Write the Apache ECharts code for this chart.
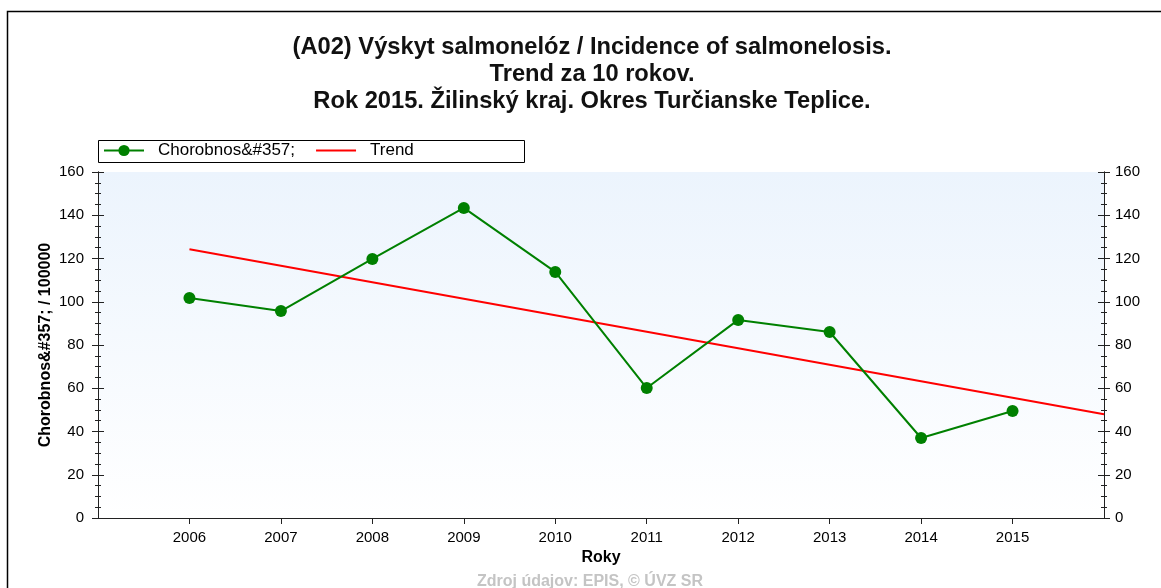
<!DOCTYPE html>
<html>
<head>
<meta charset="utf-8">
<script src="https://cdn.jsdelivr.net/npm/echarts@6/dist/echarts.min.js"></script>
<style>
  html, body { margin: 0; padding: 0; background: #fff; }
  #chart { width: 1161px; height: 588px; }
</style>
</head>
<body>
<div id="chart"></div>
<script>
// Incidence per 100 000 inhabitants, Turčianske Teplice district
const years = [2006, 2007, 2008, 2009, 2010, 2011, 2012, 2013, 2014, 2015];
const incidence = [101.7, 95.7, 119.8, 143.4, 113.8, 60.1, 91.6, 86.0, 37.0, 49.5];

// Linear trend end points
const trendYears = [2006, 2016];
const trendValues = [124.3, 48.0];

// Axis ranges and tick labels
const xRange = [2005, 2016];
const yTicks = [0, 20, 40, 60, 80, 100, 120, 140, 160];

const titleLines = [
  '(A02) Výskyt salmonelóz / Incidence of salmonelosis.',
  'Trend za 10 rokov.',
  'Rok 2015. Žilinský kraj. Okres Turčianske Teplice.'
];
const seriesName = 'Chorobnos&#357;';
const trendName = 'Trend';
const yName = 'Chorobnos&#357; / 100000';
const xName = 'Roky';
const sourceText = 'Zdroj údajov: EPIS, © ÚVZ SR';

const FONT = '"Liberation Sans", Arial, sans-serif';
const AXIS_COLOR = '#222';

const chart = echarts.init(document.getElementById('chart'), null, { renderer: 'canvas' });

const yMin = yTicks[0], yMax = yTicks[yTicks.length - 1], yStep = yTicks[1] - yTicks[0];

function yAxisDef(position, inside, withLabels) {
  return {
    type: 'value',
    position: position,
    min: yMin, max: yMax, interval: yStep,
    axisLine: { show: true, lineStyle: { color: AXIS_COLOR, width: 1 } },
    axisTick: { show: true, inside: inside, length: 6, lineStyle: { color: AXIS_COLOR } },
    minorTick: { show: true, splitNumber: 4, length: 3, lineStyle: { color: AXIS_COLOR } },
    splitLine: { show: false },
    axisLabel: withLabels ? {
      show: true, color: '#000', fontFamily: FONT, fontSize: 15,
      margin: position === 'left' ? 14 : 11
    } : { show: false }
  };
}

const pairs = years.map((y, i) => [y, incidence[i]]);
const trendPairs = trendYears.map((y, i) => [y, trendValues[i]]);

chart.setOption({
  animation: false,
  title: {
    text: titleLines.join('\n'),
    left: 587, top: 29, textAlign: 'center',
    textStyle: { fontFamily: FONT, fontSize: 23.7, fontWeight: 'bold', color: '#111', lineHeight: 27 }
  },
  legend: {
    left: 103, top: 142,
    itemWidth: 40, itemHeight: 14, itemGap: 20,
    padding: 0,
    textStyle: { fontFamily: FONT, fontSize: 17, color: '#000', padding: [0, 0, 0, 9] },
    data: [
      { name: seriesName },
      { name: trendName, itemStyle: { opacity: 0 } }
    ]
  },
  grid: {
    left: 98, right: 57, top: 172, bottom: 70,
    show: true, borderWidth: 0,
    backgroundColor: new echarts.graphic.LinearGradient(0, 0, 0, 1, [
      { offset: 0, color: '#ecf4fd' },
      { offset: 1, color: '#ffffff' }
    ])
  },
  xAxis: [
    {
      type: 'value', position: 'bottom',
      min: xRange[0], max: xRange[1], interval: 1,
      name: xName, nameLocation: 'middle', nameGap: 30,
      nameTextStyle: { fontFamily: FONT, fontSize: 16, fontWeight: 'bold', color: '#000' },
      axisLine: { show: true, lineStyle: { color: AXIS_COLOR, width: 1 } },
      axisTick: { show: true, length: 6, customValues: years, lineStyle: { color: AXIS_COLOR } },
      splitLine: { show: false },
      axisLabel: {
        color: '#000', fontFamily: FONT, fontSize: 15, margin: 12,
        customValues: years,
        formatter: v => (v === xRange[0] || v === xRange[1]) ? '' : String(v)
      }
    },
    {
      type: 'value', position: 'top',
      min: xRange[0], max: xRange[1], interval: 1,
      axisLine: { show: true, lineStyle: { color: AXIS_COLOR, width: 1 } },
      axisTick: { show: true, inside: true, length: 6, customValues: years, lineStyle: { color: AXIS_COLOR } },
      splitLine: { show: false },
      axisLabel: { show: false }
    }
  ],
  yAxis: [
    Object.assign(yAxisDef('left', false, true), {
      name: yName, nameLocation: 'middle', nameGap: 44, nameMoveOverlap: false,
      nameTextStyle: { fontFamily: FONT, fontSize: 16, fontWeight: 'bold', color: '#000' }
    }),
    yAxisDef('left', true, false),
    yAxisDef('right', false, true),
    yAxisDef('right', true, false)
  ],
  series: [
    {
      name: seriesName, type: 'line',
      xAxisIndex: 0, yAxisIndex: 0,
      data: pairs,
      symbol: 'circle', symbolSize: 12,
      lineStyle: { color: '#008000', width: 2 },
      itemStyle: { color: '#008000' },
      z: 3
    },
    {
      name: trendName, type: 'line',
      xAxisIndex: 0, yAxisIndex: 0,
      data: trendPairs,
      symbol: 'none',
      lineStyle: { color: '#ff0000', width: 2 },
      itemStyle: { color: '#ff0000' },
      z: 2
    }
  ],
  graphic: [
    {
      type: 'rect', z: -1, silent: true,
      shape: { x: 7.5, y: 11.5, width: 1300, height: 700 },
      style: { fill: 'none', stroke: '#000', lineWidth: 1.5 }
    },
    {
      type: 'rect', silent: true,
      shape: { x: 98.5, y: 140.5, width: 426, height: 22 },
      style: { fill: '#fff', stroke: '#000', lineWidth: 1 }
    },
    {
      type: 'text', silent: true,
      x: 590, y: 574,
      style: { text: sourceText, fontFamily: FONT, fontSize: 16, fontWeight: 'bold', fill: '#c4c4c4', align: 'center', verticalAlign: 'top' }
    }
  ]
});
</script>
</body>
</html>
